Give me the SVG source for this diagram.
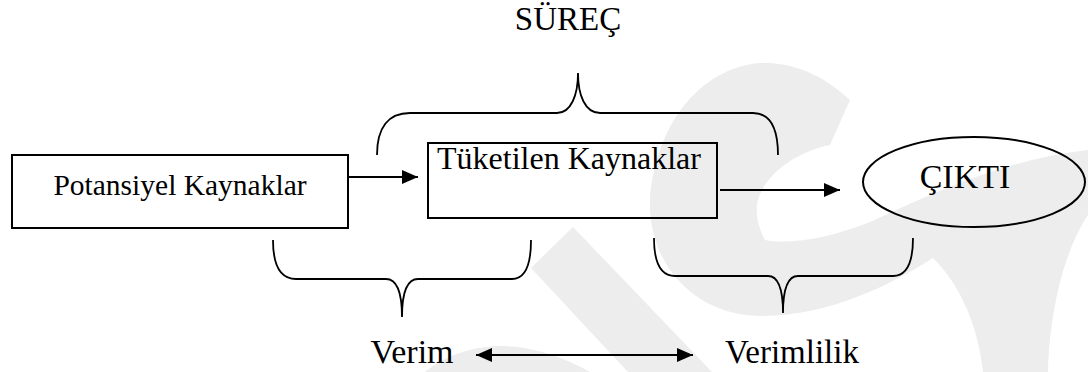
<svg xmlns="http://www.w3.org/2000/svg" width="1088" height="372" viewBox="0 0 1088 372">
<style>
.t{font-family:"Liberation Serif","Times New Roman",serif;fill:#000;text-anchor:middle}
.b{fill:none;stroke:#000;stroke-width:2}
.br{fill:none;stroke:#000;stroke-width:1.8}
.c{fill:none;stroke:#000;stroke-width:2.2}
.wm{fill:#ededed;stroke:none}
</style>
<defs>
<marker id="ah" markerUnits="userSpaceOnUse" markerWidth="17" markerHeight="15" refX="16" refY="7" orient="auto-start-reverse">
<path d="M0,0 L16,7 L0,14 z" fill="#000"/>
</marker>
</defs>
<rect width="1088" height="372" fill="#fff"/>
<g id="watermark">
<path class="wm" d="M850,100 C820,72 790,62 760,63 C700,68 655,125 650,200 C648,265 695,315 760,316 C830,316 890,285 933,258 C960,285 978,325 983,372 L1048,372 C1050,300 1068,245 1088,215 L1088,150 C1000,160 930,195 870,222 C830,238 790,245 765,240 C757,225 755,210 758,200 C765,175 795,152 830,145 Z"/>
<path class="wm" d="M531,268 L573,227 L712,372 L628,372 Z"/>
<path class="wm" d="M425,372 C445,355 475,346 500,346 C535,346 565,358 590,372 Z"/>
</g>
<g id="connectors">
<line class="c" x1="348" y1="177" x2="418" y2="177" marker-end="url(#ah)"/>
<line class="c" x1="720" y1="190" x2="840" y2="190" marker-end="url(#ah)"/>
<line class="c" x1="476" y1="355" x2="693" y2="355" marker-start="url(#ah)" marker-end="url(#ah)"/>
</g>
<g id="surec">
<path class="br" d="M377,155 C377,128 388,113 410,113 L557,113 C571,113 578,95 578,73 C578,95 585,113 600,113 L753,113 C770,113 778,128 778,155"/>
<text class="t" x="568" y="30" font-size="33">SÜREÇ</text>
</g>
<g id="potansiyel">
<rect class="b" x="12" y="155" width="336" height="73"/>
<text class="t" x="180" y="195" font-size="29.5">Potansiyel Kaynaklar</text>
</g>
<g id="tuketilen">
<rect class="b" x="428" y="143" width="289" height="75"/>
<text class="t" x="569" y="169" font-size="32">Tüketilen Kaynaklar</text>
</g>
<g id="cikti">
<ellipse class="b" cx="974" cy="182" rx="111" ry="45" fill="#fff"/>
<text class="t" x="965" y="188" font-size="34">ÇIKTI</text>
</g>
<g id="verim">
<path class="br" d="M273,240 C273,265 280,279 296,279 L386,279 C398,279 402,295 402,317 C402,295 406,279 418,279 L512,279 C525,279 531,265 531,240"/>
<text class="t" x="412" y="363" font-size="34">Verim</text>
</g>
<g id="verimlilik">
<path class="br" d="M654,238 C654,262 660,276 675,276 L768,276 C779,276 783,292 783,313 C783,292 787,276 798,276 L893,276 C907,276 913,262 913,238"/>
<text class="t" x="792" y="363" font-size="33">Verimlilik</text>
</g>
</svg>
